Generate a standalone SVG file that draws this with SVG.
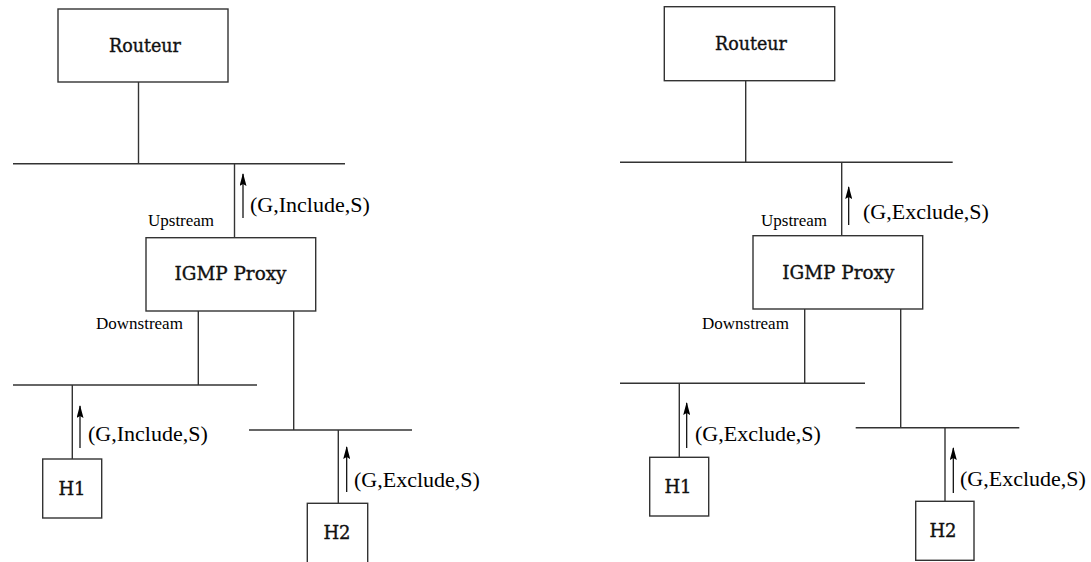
<svg xmlns="http://www.w3.org/2000/svg" width="1091" height="562" viewBox="0 0 1091 562">
<style>
.box{fill:#fff;stroke:#333;stroke-width:1.4}
.ln{stroke:#333;stroke-width:1.4;fill:none}
.ar{stroke:#000;stroke-width:1.2;fill:none;marker-end:url(#ah)}
.nt{font-family:"DejaVu Serif",serif;font-size:18px;fill:#111;stroke:#111;stroke-width:0.35;text-anchor:middle}
.lb{font-family:"Liberation Serif","Times New Roman",serif;font-size:22px;fill:#000}
.sm{font-family:"Liberation Serif","Times New Roman",serif;font-size:17px;fill:#000}
</style>
<defs>
<marker id="ah" markerWidth="13" markerHeight="7" refX="12" refY="3.5" orient="auto" markerUnits="userSpaceOnUse" viewBox="0 0 13 7">
<path d="M13,3.5 L0,0 L2,3.5 L0,7 Z" fill="#000"/>
</marker>
</defs>
<rect width="1091" height="562" fill="#fff"/>
<g id="connectors">
<line class="ln" x1="138.5" y1="82" x2="138.5" y2="163.7"/>
<line class="ln" x1="13" y1="163.7" x2="345" y2="163.7"/>
<line class="ln" x1="234.5" y1="163.7" x2="234.5" y2="237.7"/>
<line class="ln" x1="198.3" y1="311" x2="198.3" y2="385"/>
<line class="ln" x1="293.7" y1="311" x2="293.7" y2="430"/>
<line class="ln" x1="13" y1="385" x2="257" y2="385"/>
<line class="ln" x1="249" y1="430" x2="412" y2="430"/>
<line class="ln" x1="72.3" y1="385" x2="72.3" y2="459"/>
<line class="ln" x1="338.3" y1="430" x2="338.3" y2="503.3"/>
<line class="ln" x1="745.7" y1="80.7" x2="745.7" y2="162.3"/>
<line class="ln" x1="620" y1="162.3" x2="952.7" y2="162.3"/>
<line class="ln" x1="841.7" y1="162.3" x2="841.7" y2="235.7"/>
<line class="ln" x1="804.7" y1="309" x2="804.7" y2="383.3"/>
<line class="ln" x1="900.7" y1="309" x2="900.7" y2="427.7"/>
<line class="ln" x1="620" y1="383.3" x2="865" y2="383.3"/>
<line class="ln" x1="855.7" y1="427.7" x2="1019.3" y2="427.7"/>
<line class="ln" x1="679.3" y1="383.3" x2="679.3" y2="457.3"/>
<line class="ln" x1="945" y1="427.7" x2="945" y2="501.3"/>
<path class="ar" d="M243,218 V174"/>
<path class="ar" d="M80,448 V406"/>
<path class="ar" d="M346.7,492 V447"/>
<path class="ar" d="M848.7,225 V187"/>
<path class="ar" d="M686.7,448 V403"/>
<path class="ar" d="M953.3,493 V448"/>
</g>
<g id="labels">
<text class="lb" x="250" y="212">(G,Include,S)</text>
<text class="sm" x="148" y="226">Upstream</text>
<text class="sm" x="96" y="329">Downstream</text>
<text class="lb" x="88" y="441">(G,Include,S)</text>
<text class="lb" x="354" y="487">(G,Exclude,S)</text>
<text class="lb" x="863" y="219">(G,Exclude,S)</text>
<text class="sm" x="761" y="226">Upstream</text>
<text class="sm" x="702" y="329">Downstream</text>
<text class="lb" x="695" y="441">(G,Exclude,S)</text>
<text class="lb" x="960" y="486">(G,Exclude,S)</text>
</g>
<g id="routeur-left"><rect class="box" x="58" y="9" width="170" height="73"/><text class="nt" x="145" y="52" textLength="72" lengthAdjust="spacingAndGlyphs">Routeur</text></g>
<g id="proxy-left"><rect class="box" x="146" y="237.7" width="169.7" height="73.3"/><text class="nt" x="230.5" y="280" textLength="112" lengthAdjust="spacingAndGlyphs">IGMP Proxy</text></g>
<g id="h1-left"><rect class="box" x="42.7" y="459" width="59" height="59"/><text class="nt" x="72" y="495">H1</text></g>
<g id="h2-left"><rect class="box" x="307.3" y="503.3" width="60.4" height="60"/><text class="nt" x="337" y="539">H2</text></g>
<g id="routeur-right"><rect class="box" x="664.3" y="6.7" width="170.4" height="74"/><text class="nt" x="751" y="50" textLength="72" lengthAdjust="spacingAndGlyphs">Routeur</text></g>
<g id="proxy-right"><rect class="box" x="753" y="235.7" width="169.7" height="73.3"/><text class="nt" x="838.3" y="279" textLength="112" lengthAdjust="spacingAndGlyphs">IGMP Proxy</text></g>
<g id="h1-right"><rect class="box" x="649.7" y="457.3" width="59" height="58.7"/><text class="nt" x="678" y="493">H1</text></g>
<g id="h2-right"><rect class="box" x="915.7" y="501.3" width="58.3" height="59"/><text class="nt" x="943" y="537">H2</text></g>
</svg>
